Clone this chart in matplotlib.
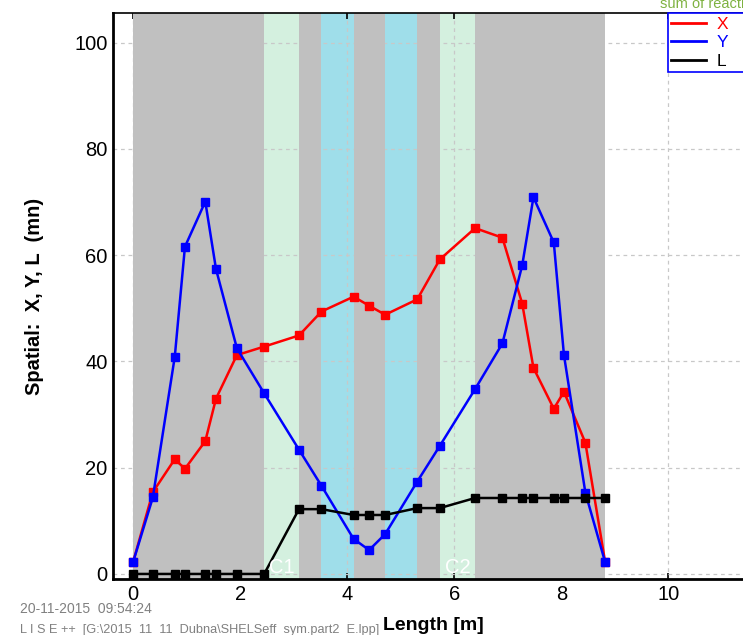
import matplotlib.pyplot as plt
from matplotlib.lines import Line2D

# positions along the beam line [m]
length = [0.0, 0.37, 0.78, 0.97, 1.35, 1.55, 1.94, 2.45, 3.10, 3.52, 4.12, 4.41,
          4.71, 5.31, 5.73, 6.39, 6.90, 7.27, 7.48, 7.86, 8.05, 8.45, 8.82]

# beam envelope values (mn)
x_size = [2.2, 15.4, 21.6, 19.8, 25.0, 33.0, 41.2, 42.8, 44.9, 49.4, 52.2, 50.5,
          48.8, 51.7, 59.2, 65.1, 63.3, 50.9, 38.8, 31.1, 34.3, 24.7, 2.2]
y_size = [2.2, 14.4, 40.9, 61.6, 70.1, 57.4, 42.5, 34.0, 23.4, 16.6, 6.6, 4.5,
          7.5, 17.4, 24.1, 34.8, 43.4, 58.1, 70.9, 62.4, 41.2, 15.3, 2.2]
l_size = [0, 0, 0, 0, 0, 0, 0, 0, 12.2, 12.2, 11.1, 11.1,
          11.1, 12.4, 12.4, 14.3, 14.3, 14.3, 14.3, 14.3, 14.3, 14.3, 14.3]

# beam line elements
drifts = [(0.0, 2.45), (3.10, 3.52), (4.12, 4.71), (5.31, 5.73), (6.39, 8.82)]
cavities = [(2.45, 3.10, 'C1'), (5.73, 6.39, 'C2')]
quads = [(3.52, 4.12), (4.71, 5.31)]

series_names = ['X', 'Y', 'L']
series_colors = ['#ff0000', '#0000ff', 'black']

plt.rcParams['font.family'] = ['Liberation Sans', 'DejaVu Sans']

fig = plt.figure(figsize=(7.43, 6.35), dpi=100)
ax = fig.add_axes([113 / 743, 56 / 635, 641 / 743, 566 / 635])

for a, b in drifts:
    ax.axvspan(a, b, color='#c0c0c0', lw=0, zorder=1)
for a, b, name in cavities:
    ax.axvspan(a, b, color='#d4f0df', lw=0, zorder=0.1)
    ax.text((a + b) / 2, 0.2, name, color='white', fontsize=14.5,
            ha='center', va='baseline', zorder=6)
for a, b in quads:
    ax.axvspan(a, b, color='#9fdeea', lw=0, zorder=0.1)

for vals, name, c, z in zip([x_size, y_size, l_size], series_names, series_colors, [3, 4, 5]):
    ax.plot(length, vals, '-s', color=c, lw=1.8, ms=5.5, label=name, zorder=z)

ax.set_xlim(-0.374, 11.6)
ax.set_ylim(-0.95, 105.6)
ax.set_xticks([0, 2, 4, 6, 8, 10])
ax.set_yticks([0, 20, 40, 60, 80, 100])
ax.grid(True, color='#c8c8c8', ls=(0, (3, 3)), lw=0.9, zorder=0.5)
ax.set_axisbelow(True)
ax.tick_params(direction='in', length=4, width=1.2, labelsize=14.5, top=True)
ax.tick_params(axis='y', length=0, pad=4)
ax.tick_params(axis='x', pad=4)
for side in ['left', 'bottom']:
    ax.spines[side].set_linewidth(2)
ax.spines['top'].set_linewidth(1.2)

ax.set_xlabel('Length [m]', fontsize=14, fontweight='bold', labelpad=10)
ax.set_ylabel('Spatial:  X, Y, L  (mn)', fontsize=14.5, fontweight='bold', labelpad=22)

# legend shows plain lines, frame runs past the right edge
handles = [Line2D([], [], color=c, lw=2) for c in series_colors]
leg = fig.legend(handles, series_names, loc='upper left',
                 bbox_to_anchor=(668 / 743, 1 - 13 / 635, 110 / 743, 0),
                 mode='expand', fontsize=12.5, frameon=True, fancybox=False,
                 framealpha=1, edgecolor='#0000ff', handlelength=2.0,
                 handletextpad=0.6, borderpad=0.2, labelspacing=0.2,
                 borderaxespad=0)
leg.get_frame().set_linewidth(1.2)
for txt, c in zip(leg.get_texts(), series_colors):
    txt.set_color(c)

fig.text(660 / 743, 1 + 3 / 635, 'sum of reaction', color='#7fb241',
         fontsize=10.5, va='top')
fig.text(20 / 743, 1 - 609 / 635, '20-11-2015  09:54:24', color='#808080',
         fontsize=10, va='center')
fig.text(20 / 743, 1 - 630 / 635, 'L I S E ++  [G:\\2015_11_11_Dubna\\SHELSeff_sym.part2_E.lpp]',
         color='#808080', fontsize=9.2, va='center')

fig.savefig('out.png', dpi=100)
